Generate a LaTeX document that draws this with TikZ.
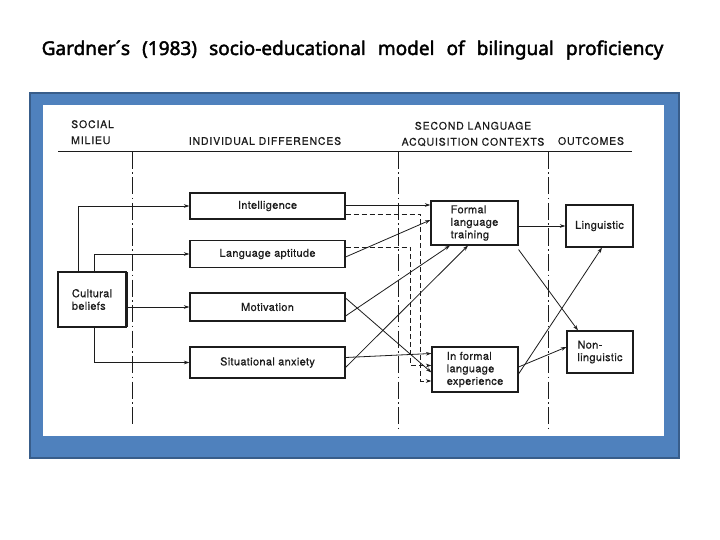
\documentclass[tikz,border=0pt]{standalone}
\usepackage{fontspec}
\usetikzlibrary{arrows.meta}
\newfontfamily\titlefont[FakeBold=2.2, WordSpace=2.45]{Noto Sans}
\newfontfamily\boxfont[LetterSpace=3, FakeBold=0.6]{TeX Gyre Heros}
\newfontfamily\headfont[LetterSpace=8, FakeBold=0.6]{TeX Gyre Heros}
\definecolor{frameblue}{RGB}{79,129,189}
\definecolor{framedark}{RGB}{56,93,138}
\definecolor{ink}{RGB}{28,28,28}
\begin{document}
\begin{tikzpicture}[x=1pt,y=-1pt,
  box/.style={draw=ink, line width=1.1pt, rectangle, inner sep=0pt, font=\boxfont\fontsize{11}{12.5}\selectfont, text=ink},
  hdr/.style={font=\headfont\fontsize{10.5}{16}\selectfont, text=ink, inner sep=0pt, align=center},
  arr/.style={draw=ink, line width=0.8pt, -{Stealth[length=5.5pt,width=3.6pt]}},
  dsh/.style={dash pattern=on 5pt off 3pt},
  divider/.style={draw=ink, line width=1pt, dash pattern=on 17pt off 3.5pt on 1.5pt off 3.5pt}]
\useasboundingbox (0,0) rectangle (720,540);
% title
\node[font=\titlefont\fontsize{19}{22}\selectfont, inner sep=0pt, anchor=base] (title) at (352.5,55) {Gardner´s (1983) socio-educational model of bilingual proficiency};
% frame
\fill[frameblue] (30,93) rectangle (679,458);
\draw[framedark, line width=1.5pt] (30,93) rectangle (679,458);
\fill[white] (43,105) rectangle (664,436);
% headers
\node[hdr, align=left, anchor=north west] (hsoc) at (71,120) {SOCIAL\\MILIEU};
\node[hdr] (hind) at (265,141) {INDIVIDUAL DIFFERENCES};
\node[hdr] (hsec) at (473,134) {SECOND LANGUAGE\\ACQUISITION CONTEXTS};
\node[hdr] (hout) at (591,141) {OUTCOMES};
\draw[ink, line width=1pt] (58,152) -- (632,152);
% dividers
\coordinate (v1t) at (132,152); \coordinate (v1b) at (132,424);
\coordinate (v2t) at (398,152); \coordinate (v2b) at (398,430);
\coordinate (v3t) at (548,152); \coordinate (v3b) at (548,430);
\draw[divider] (v1t) -- (v1b);
\draw[divider] (v2t) -- (v2b);
\draw[divider] (v3t) -- (v3b);
% boxes
\node[box, minimum width=155pt, minimum height=26pt] (intel) at (267.5,206) {Intelligence};
\node[box, minimum width=155pt, minimum height=27pt] (la) at (267.5,254) {Language aptitude};
\node[box, minimum width=155pt, minimum height=28pt] (mot) at (267.5,307) {Motivation};
\node[box, minimum width=155pt, minimum height=31pt] (sa) at (267.5,362.5) {Situational anxiety};
\node[box, minimum width=68pt, minimum height=55pt, align=left] (cb) at (92,299.5) {Cultural\\beliefs};
\draw[ink, line width=1pt] ([xshift=1.2pt,yshift=-1pt]cb.north east) -- ([xshift=1.2pt,yshift=1.2pt]cb.south east) -- ([xshift=1pt,yshift=1.2pt]cb.south west);
\node[box, minimum width=87pt, minimum height=44pt, align=left] (formal) at (474.5,223) {Formal\\language\\training};
\node[box, minimum width=86pt, minimum height=45pt, align=left] (inf) at (475,369.5) {In formal\\language\\experience};
\node[box, minimum width=67pt, minimum height=42pt] (ling) at (599.5,226) {Linguistic};
\node[box, minimum width=66pt, minimum height=42pt, align=left] (non) at (600,352) {Non-\\linguistic};
% social milieu connectors
\draw[arr] ([xshift=-14pt]cb.north) |- (intel.west);
\draw[arr] ([xshift=2pt]cb.north) |- (la.west);
\draw[arr] (cb.east |- mot.west) -- (mot.west);
\draw[arr] ([xshift=2pt]cb.south) |- (sa.west);
% individual differences -> contexts
\draw[arr] ([yshift=1pt]intel.east) -- ([yshift=1pt]intel.east -| formal.west);
\draw[arr, dsh] ([yshift=-8pt]intel.east) -| ([xshift=-11pt,yshift=-11.5pt]inf.west) -- ([yshift=-11.5pt]inf.west);
\draw[arr] ([yshift=-3pt]la.east) -- ([yshift=3pt]formal.west);
\draw[arr, dsh] ([yshift=7pt]la.east) -| ([xshift=-21pt,yshift=4pt]inf.west) -- ([yshift=4pt]inf.west);
\draw[arr] ([yshift=-9pt]mot.east) -- ([xshift=-24.5pt]formal.south);
\draw[arr] ([yshift=9pt]mot.east) -- ([yshift=-3pt]inf.west);
\draw[arr] ([yshift=-5pt]sa.east) -- ([xshift=-6.5pt]formal.south);
\draw[arr] ([yshift=5pt]sa.east) -- ([yshift=16pt]inf.west);
% contexts -> outcomes
\draw[arr] (formal.east |- ling.west) -- (ling.west);
\draw[arr] ([yshift=-4pt]formal.south east) -- ([xshift=-22pt]non.north);
\draw[arr] ([yshift=-4.5pt]inf.east) -- ([xshift=2.5pt]ling.south);
\draw[arr] ([yshift=2.5pt]inf.east) -- ([yshift=5pt]non.west);
\end{tikzpicture}
\end{document}
